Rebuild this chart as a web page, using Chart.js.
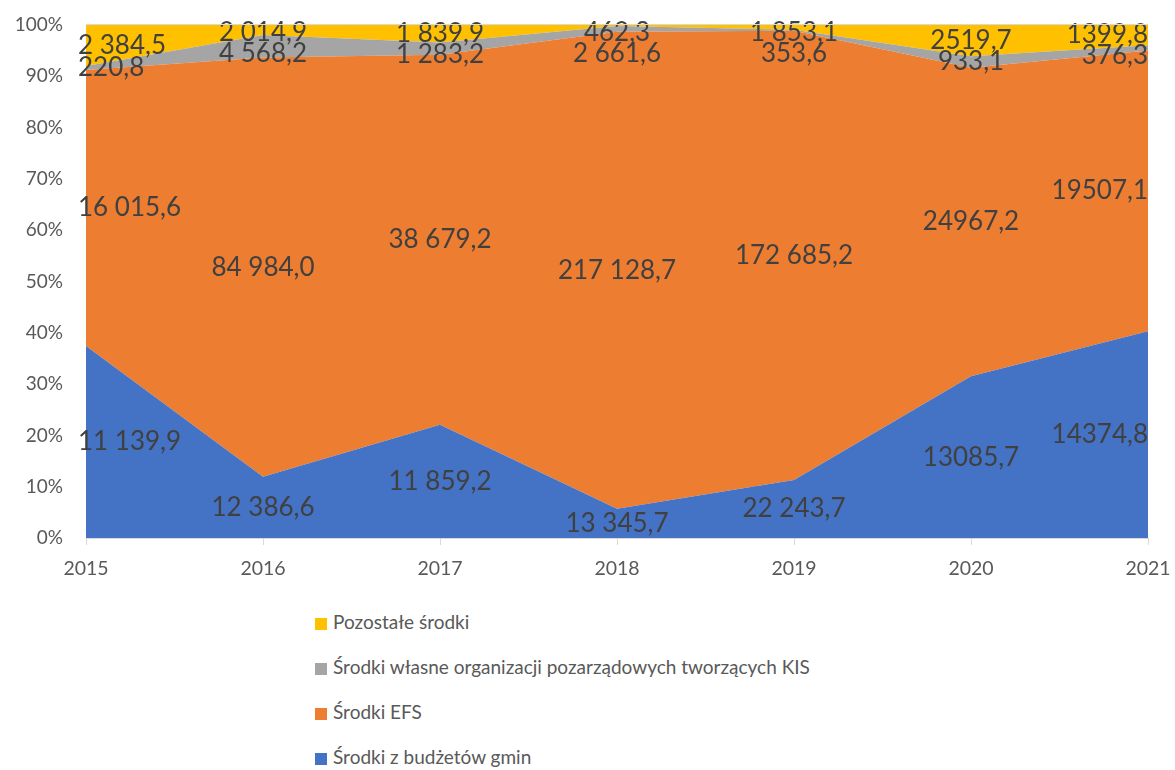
<!DOCTYPE html>
<html lang="pl">
<head>
<meta charset="utf-8">
<title>Źródła finansowania KIS 2015-2021</title>
<script src="https://cdn.jsdelivr.net/npm/chart.js@4/dist/chart.umd.min.js"></script>
<style>
    html, body { margin: 0; padding: 0; background: #fff; }
    #wrap { position: relative; width: 1175px; height: 770px; }
    #box { position: absolute; left: 0; top: 0; width: 1175px; height: 595px; }
    #legend { position: absolute; left: 315px; top: 608px; font-family: Lato, sans-serif; font-size: 19px; color: #595959; }
    #legend div { height: 45px; line-height: 28px; white-space: nowrap; }
    #legend span.sw { display: inline-block; width: 12px; height: 12px; margin-right: 6px; vertical-align: -1px; }
</style>
</head>
<body>
<div id="wrap">
    <div id="box"><canvas id="chart"></canvas></div>
    <div id="legend"></div>
</div>
<script>
const years = ['2015', '2016', '2017', '2018', '2019', '2020', '2021'];

// kwoty w tys. zł
const budzetyGmin = [11139.9, 12386.6, 11859.2, 13345.7, 22243.7, 13085.7, 14374.8];
const srodkiEFS = [16015.6, 84984.0, 38679.2, 217128.7, 172685.2, 24967.2, 19507.1];
const srodkiWlasne = [220.8, 4568.2, 1283.2, 2661.6, 353.6, 933.1, 376.3];
const pozostale = [2384.5, 2014.9, 1839.9, 462.3, 1853.1, 2519.7, 1399.8];

// w latach 2020-2021 etykiety bez odstępu tysięcy
const groupThousands = [true, true, true, true, true, false, false];

const seriesNames = [
    'Środki z budżetów gmin',
    'Środki EFS',
    'Środki własne organizacji pozarządowych tworzących KIS',
    'Pozostałe środki'
];
const seriesColors = ['#4472C4', '#ED7D31', '#A5A5A5', '#FFC000'];

const raw = [budzetyGmin, srodkiEFS, srodkiWlasne, pozostale];
const totals = years.map((y, i) => raw.reduce((s, arr) => s + arr[i], 0));
const shares = raw.map(arr => arr.map((v, i) => v / totals[i] * 100));

function fmt(v, grouped) {
    let s = v.toFixed(1).replace('.', ',');
    if (grouped) {
        let parts = s.split(',');
        parts[0] = parts[0].replace(/\B(?=(\d{3})+(?!\d))/g, ' ');
        s = parts.join(',');
    }
    return s;
}

// etykiety wartości na środku każdego pasma
const bandLabels = {
    id: 'bandLabels',
    afterDatasetsDraw(chart) {
        const ctx = chart.ctx;
        const area = chart.chartArea;
        const yScale = chart.scales.y;
        ctx.save();
        ctx.font = '26px Lato';
        ctx.fillStyle = '#404040';
        ctx.textAlign = 'center';
        ctx.textBaseline = 'middle';
        for (let i = 0; i < years.length; i++) {
            let items = [];
            let base = yScale.getPixelForValue(0);
            for (let d = 0; d < raw.length; d++) {
                const pt = chart.getDatasetMeta(d).data[i];
                items.push({ x: pt.x, y: (pt.y + base) / 2, text: fmt(raw[d][i], groupThousands[i]) });
                base = pt.y;
            }
            // od góry: pilnuj odstępów między etykietami
            items.reverse();
            items[0].y = Math.max(items[0].y, area.top + 8);
            for (let k = 1; k < items.length; k++) {
                items[k].y = Math.max(items[k].y, items[k - 1].y + 21);
            }
            items.forEach(it => {
                const w = ctx.measureText(it.text).width;
                let x = it.x;
                if (x - w / 2 < area.left - 8) x = area.left - 8 + w / 2;
                if (x + w / 2 > area.right) x = area.right - w / 2;
                ctx.fillText(it.text, x, it.y);
            });
        }
        ctx.restore();
    }
};

// cienka linia na górnej krawędzi obszaru wykresu
const topLine = {
    id: 'topLine',
    afterDatasetsDraw(chart) {
        const c = chart.ctx, a = chart.chartArea;
        c.save();
        c.strokeStyle = '#D9D9D9';
        c.lineWidth = 1;
        c.beginPath();
        c.moveTo(a.left, a.top - 0.5);
        c.lineTo(a.right, a.top - 0.5);
        c.stroke();
        c.restore();
    }
};

const ctx = document.getElementById('chart');

const config = {
    type: 'line',
    data: {
        labels: years,
        datasets: shares.map((data, d) => ({
            label: seriesNames[d],
            data: data,
            backgroundColor: seriesColors[d],
            borderColor: seriesColors[d],
            borderWidth: 0,
            pointRadius: 0,
            tension: 0,
            fill: d === 0 ? 'origin' : '-1'
        }))
    },
    options: {
        responsive: true,
        maintainAspectRatio: false,
        animation: false,
        layout: {
            padding: { top: 25, right: 27, bottom: 0, left: 0 }
        },
        plugins: {
            legend: { display: false },
            tooltip: { enabled: false }
        },
        scales: {
            x: {
                grid: {
                    drawOnChartArea: false,
                    color: '#D9D9D9',
                    tickLength: 7
                },
                border: { color: '#D9D9D9' },
                ticks: {
                    color: '#595959',
                    font: { family: 'Lato', size: 19.5 },
                    padding: 12,
                    maxRotation: 0
                },
                afterFit(scale) {
                    scale.height = 57;
                    scale.paddingLeft = 0;
                    scale.paddingRight = 0;
                }
            },
            y: {
                stacked: true,
                min: 0,
                max: 100,
                grid: {
                    color: '#D9D9D9',
                    drawTicks: false
                },
                border: { display: false },
                ticks: {
                    stepSize: 10,
                    color: '#595959',
                    font: { family: 'Lato', size: 19 },
                    padding: 23,
                    callback: v => v + '%'
                },
                afterFit(scale) {
                    scale.width = 86;
                    scale.paddingTop = 0;
                    scale.paddingBottom = 0;
                }
            }
        }
    },
    plugins: [bandLabels, topLine]
};

const chart = new Chart(ctx, config);

// legenda pionowa, od najwyższej serii
const legendEl = document.getElementById('legend');
for (let d = seriesNames.length - 1; d >= 0; d--) {
    const row = document.createElement('div');
    const sw = document.createElement('span');
    sw.className = 'sw';
    sw.style.background = seriesColors[d];
    row.appendChild(sw);
    row.appendChild(document.createTextNode(seriesNames[d]));
    legendEl.appendChild(row);
}
</script>
</body>
</html>
